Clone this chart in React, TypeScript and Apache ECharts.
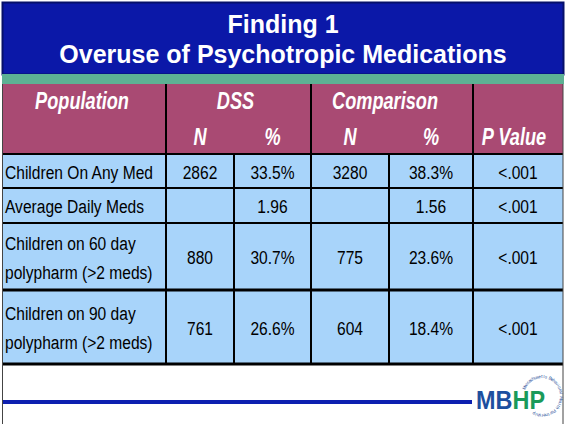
import React, { useEffect, useRef } from "react";
import * as echarts from "echarts";

// ---- data ----
const titleLines = ["Finding 1", "Overuse of Psychotropic Medications"];
const headerGroups = ["Population", "DSS", "Comparison"];
const headerSubs = ["N", "%", "N", "%", "P Value"];
const populations = [
  "Children On Any Med",
  "Average Daily Meds",
  "Children on 60 day\npolypharm (>2 meds)",
  "Children on 90 day\npolypharm (>2 meds)",
];
const dssN = ["2862", "", "880", "761"];
const dssPct = ["33.5%", "1.96", "30.7%", "26.6%"];
const compN = ["3280", "", "775", "604"];
const compPct = ["38.3%", "1.56", "23.6%", "18.4%"];
const pValues = ["<.001", "<.001", "<.001", "<.001"];
const logoParts = ["MB", "HP"];
const logoRing = "Massachusetts Behavioral Health Partnership";

// ---- layout ----
const W = 565;
const H = 424;
const colEdges = [2, 166, 234, 311, 389, 473, 563];
const rowEdges = [154, 188, 223, 290, 364];
const rowLineWidths = [2, 2, 2, 3, 3];
const NARROW_SCALE = 0.82;

const BLUE = "#0b18a8";
const GREEN = "#5db194";
const MAROON = "#a94a73";
const CELL = "#a8d4fa";
const SANS = '"Liberation Sans", Arial, sans-serif';

export default function App() {
  const ref = useRef<HTMLDivElement>(null);
  useEffect(() => {
    document.body.style.margin = "0";
    const chart = echarts.init(ref.current!, null, { renderer: "svg", width: W, height: H });
    const tableColumns = [populations, dssN, dssPct, compN, compPct, pValues];
    const cellData: number[][] = [];
    populations.forEach((_, r) => {
      tableColumns.forEach((__, c) => cellData.push([c, r]));
    });

    const centerText = (
      text: string,
      x: number,
      y: number,
      font: string,
      fill: string,
      scaleX = 1,
      align = "center"
    ) => ({
      type: "text",
      x,
      y,
      scaleX,
      style: {
        text,
        font,
        fill,
        align,
        verticalAlign: "middle",
        textAlign: align,
        textVerticalAlign: "middle",
      },
      z: 5,
    });

    const graphics: any[] = [];
    // title band
    graphics.push({
      type: "rect",
      shape: { x: 2.5, y: 2.5, width: 561, height: 72 },
      style: { fill: BLUE, stroke: "#06106a", lineWidth: 2 },
      z: 1,
    });
    graphics.push({
      type: "rect",
      shape: { x: 2, y: 74, width: 562, height: 10 },
      style: { fill: GREEN },
      z: 1,
    });
    titleLines.forEach((t, i) => {
      graphics.push(centerText(t, 283, 24 + i * 30, `bold 25px ${SANS}`, "#ffffff"));
    });
    // header
    graphics.push({
      type: "rect",
      shape: { x: 2, y: 84, width: 561, height: 70 },
      style: { fill: MAROON },
      z: 1,
    });
    const groupCenters = [
      (colEdges[0] + colEdges[1]) / 2 - 2,
      (colEdges[1] + colEdges[3]) / 2 - 3,
      (colEdges[3] + colEdges[5]) / 2 - 7,
    ];
    headerGroups.forEach((t, i) => {
      graphics.push(
        centerText(t, groupCenters[i], 101, `italic bold 23px ${SANS}`, "#ffffff", 0.79)
      );
    });
    headerSubs.forEach((t, i) => {
      graphics.push(
        centerText(
          t,
          (colEdges[i + 1] + colEdges[i + 2]) / 2 - (i === 4 ? 4 : 0),
          137,
          `italic bold 23px ${SANS}`,
          "#ffffff",
          0.79
        )
      );
    });
    // vertical lines in header
    [1, 3, 5].forEach((c) => {
      graphics.push({
        type: "line",
        shape: { x1: colEdges[c], y1: 84, x2: colEdges[c], y2: 154 },
        style: { stroke: "#000", lineWidth: 2 },
        z: 10,
      });
    });
    // vertical lines in body
    [1, 2, 3, 4, 5].forEach((c) => {
      graphics.push({
        type: "line",
        shape: { x1: colEdges[c], y1: 154, x2: colEdges[c], y2: 364 },
        style: { stroke: "#000", lineWidth: 2 },
        z: 10,
      });
    });
    // horizontal lines
    rowEdges.forEach((y, i) => {
      graphics.push({
        type: "line",
        shape: { x1: 2, y1: y, x2: 563, y2: y },
        style: { stroke: "#000", lineWidth: rowLineWidths[i] },
        z: 10,
      });
    });
    // frame side lines
    [2.5, 563].forEach((x) => {
      graphics.push({
        type: "line",
        shape: { x1: x, y1: 84, x2: x, y2: H },
        style: { stroke: "#444", lineWidth: 1 },
        z: 10,
      });
    });
    // bottom blue line
    graphics.push({
      type: "line",
      shape: { x1: 3, y1: 402, x2: 472, y2: 402 },
      style: { stroke: "#0d1fb0", lineWidth: 4 },
      z: 5,
    });
    // logo
    graphics.push(centerText(logoParts[0], 476, 400, `bold 26px ${SANS}`, "#1d4f9f", 0.9, "left"));
    graphics.push(centerText(logoParts[1], 512.5, 400, `bold 26px ${SANS}`, "#1a9a5a", 0.9, "left"));
    const cx = 542;
    const cy = 396;
    const rr = 19.5;
    const startA = (-155 * Math.PI) / 180;
    const endA = (115 * Math.PI) / 180;
    const n = logoRing.length;
    for (let i = 0; i < n; i++) {
      const th = startA + ((endA - startA) * i) / (n - 1);
      graphics.push({
        type: "text",
        x: cx + rr * Math.cos(th),
        y: cy + rr * Math.sin(th),
        rotation: -(th + Math.PI / 2),
        style: {
          text: logoRing[i],
          font: `4.5px ${SANS}`,
          fill: "#2a4f9a",
          align: "center",
          verticalAlign: "middle",
          textAlign: "center",
          textVerticalAlign: "middle",
        },
        z: 4,
      });
    }

    const option: any = {
      animation: false,
      backgroundColor: "#ffffff",
      grid: { left: 0, right: 0, top: 0, bottom: 0 },
      xAxis: { type: "value", min: 0, max: W, show: false },
      yAxis: { type: "value", min: 0, max: H, inverse: true, show: false },
      graphic: { elements: graphics },
      series: [
        {
          type: "custom",
          coordinateSystem: "cartesian2d",
          data: cellData,
          z: 2,
          renderItem: (params: any, api: any) => {
            const c = api.value(0);
            const r = api.value(1);
            const p0 = api.coord([colEdges[c], rowEdges[r]]);
            const p1 = api.coord([colEdges[c + 1], rowEdges[r + 1]]);
            const text = tableColumns[c][r];
            const isLabel = c === 0;
            return {
              type: "group",
              children: [
                {
                  type: "rect",
                  shape: { x: p0[0], y: p0[1], width: p1[0] - p0[0], height: p1[1] - p0[1] },
                  style: { fill: CELL },
                },
                {
                  type: "text",
                  x: isLabel ? p0[0] + 3 : (p0[0] + p1[0]) / 2,
                  y: (p0[1] + p1[1]) / 2 + 1,
                  scaleX: NARROW_SCALE,
                  style: {
                    text,
                    font: `19px ${SANS}`,
                    fill: "#000000",
                    lineHeight: 29,
                    align: isLabel ? "left" : "center",
                    verticalAlign: "middle",
                    textAlign: isLabel ? "left" : "center",
                    textVerticalAlign: "middle",
                  },
                },
              ],
            };
          },
        },
      ],
    };
    chart.setOption(option);
    return () => chart.dispose();
  }, []);
  return <div ref={ref} style={{ width: W, height: H }} />;
}
